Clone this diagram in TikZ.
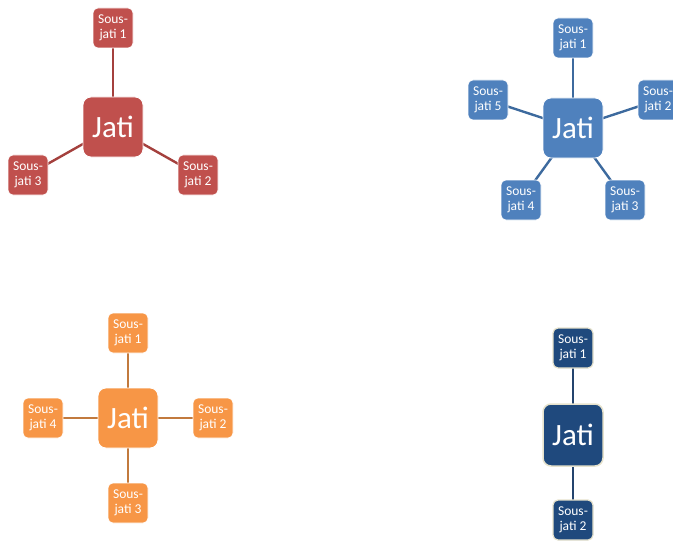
\documentclass[tikz,border=0pt]{standalone}
\usepackage{fontspec}
\setmainfont{Carlito}
\usetikzlibrary{backgrounds}
\definecolor{redbox}{HTML}{C0504D}
\definecolor{redlink}{HTML}{A4403D}
\definecolor{bluebox}{HTML}{4F81BD}
\definecolor{bluelink}{HTML}{3D6A9E}
\definecolor{orangebox}{HTML}{F79646}
\definecolor{orangelink}{HTML}{C27A3E}
\definecolor{navybox}{HTML}{1F497D}
\definecolor{navylink}{HTML}{24446E}
\definecolor{cream}{HTML}{E6E2CC}
\newcommand{\linkwidth}{2.4pt}

\tikzset{
  jati/.style={fill=#1, draw=white, line width=0.8pt, rounded corners=8pt,
    minimum width=60pt, minimum height=60pt, inner sep=0pt, text=white,
    font=\fontsize{31}{33}\selectfont},
  sous/.style={fill=#1, draw=white, line width=0.6pt, rounded corners=5pt,
    minimum width=40pt, minimum height=40pt, inner sep=0pt, text=white,
    align=center, font=\fontsize{13.5}{14.5}\selectfont},
  link/.style={draw=#1, line width=\linkwidth},
}

\begin{document}
\begin{tikzpicture}[x=1pt, y=-1pt]
\useasboundingbox (0,0) rectangle (673,543);
%rouge
\node[jati=redbox] (r) at (113,127) {Jati};
\node[sous=redbox] (r1) at (113,28) {Sous-\\jati 1};
\node[sous=redbox] (r2) at (198,175) {Sous-\\jati 2};
\node[sous=redbox] (r3) at (28,175) {Sous-\\jati 3};
%bleu
\node[jati=bluebox] (b) at (573,128) {Jati};
\node[sous=bluebox] (b1) at (573,38) {Sous-\\jati 1};
\node[sous=bluebox] (b2) at (658,100) {Sous-\\jati 2};
\node[sous=bluebox] (b3) at (625,200) {Sous-\\jati 3};
\node[sous=bluebox] (b4) at (521,200) {Sous-\\jati 4};
\node[sous=bluebox] (b5) at (488,100) {Sous-\\jati 5};
%orange
\node[jati=orangebox] (o) at (128,418) {Jati};
\node[sous=orangebox] (o1) at (128,333) {Sous-\\jati 1};
\node[sous=orangebox] (o2) at (213,418) {Sous-\\jati 2};
\node[sous=orangebox] (o3) at (128,503) {Sous-\\jati 3};
\node[sous=orangebox] (o4) at (43,418) {Sous-\\jati 4};
%marine
\node[jati=navybox, draw=cream, line width=1.5pt, minimum height=62pt] (n) at (573,435) {Jati};
\node[sous=navybox, draw=cream, line width=1.2pt] (n1) at (573,348) {Sous-\\jati 1};
\node[sous=navybox, draw=cream, line width=1.2pt] (n2) at (573,520) {Sous-\\jati 2};
\begin{scope}[on background layer]
\foreach \s in {r1,r2,r3}
  \draw[link=redlink] (r.center) -- (\s.center);
\foreach \s in {b1,b2,b3,b4,b5}
  \draw[link=bluelink] (b.center) -- (\s.center);
\foreach \s in {o1,o2,o3,o4}
  \draw[link=orangelink] (o.center) -- (\s.center);
\foreach \s in {n1,n2}
  \draw[link=navylink] (n.center) -- (\s.center);
\end{scope}
\end{tikzpicture}
\end{document}
